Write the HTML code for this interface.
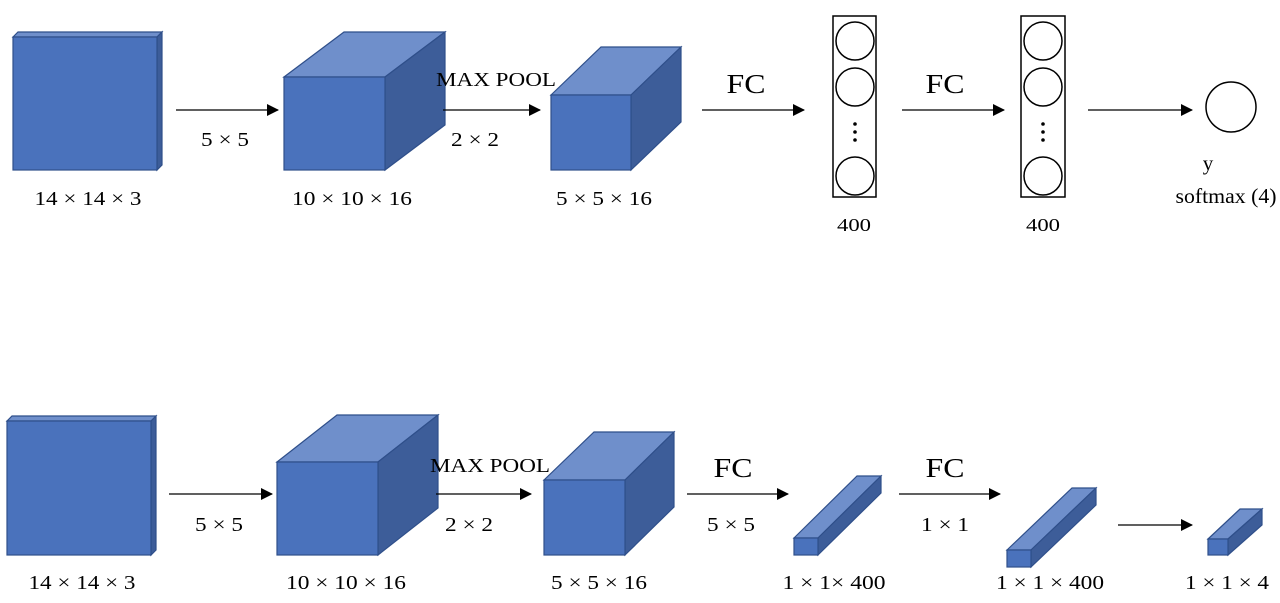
<!DOCTYPE html>
<html><head><meta charset="utf-8"><style>
html,body{margin:0;padding:0;background:#fff;}
svg{display:block;}
text{font-family:"Liberation Serif",serif;fill:#000;text-anchor:middle;}
.f{fill:#4a72bc;stroke:#2f4f8a;stroke-width:1.2;}
.t{fill:#6f8fcb;stroke:#2f4f8a;stroke-width:1.2;}
.s{fill:#3d5d99;stroke:#2f4f8a;stroke-width:1.2;}
.a{stroke:#000;stroke-width:1.3;}
.c{fill:#fff;stroke:#000;stroke-width:1.5;}
</style></head><body>
<svg width="1280" height="603" viewBox="0 0 1280 603" xmlns="http://www.w3.org/2000/svg">
<defs><marker id="ar" markerWidth="12" markerHeight="12" refX="11" refY="6" orient="auto" markerUnits="userSpaceOnUse"><path d="M0,0 L12,6 L0,12 Z" fill="#000"/></marker></defs>

<!-- TOP ROW -->
<polygon class="t" points="13,37 18,32 162,32 157,37"/>
<polygon class="s" points="157,37 162,32 162,165 157,170"/>
<rect class="f" x="13" y="37" width="144" height="133"/>

<polygon class="t" points="284,77 344,32 445,32 385,77"/>
<polygon class="s" points="385,77 445,32 445,125 385,170"/>
<rect class="f" x="284" y="77" width="101" height="93"/>

<polygon class="t" points="551,95 601,47 681,47 631,95"/>
<polygon class="s" points="631,95 681,47 681,122 631,170"/>
<rect class="f" x="551" y="95" width="80" height="75"/>

<line class="a" x1="176" y1="110" x2="278" y2="110" marker-end="url(#ar)"/>
<text x="225" y="146" font-size="20" textLength="48" lengthAdjust="spacingAndGlyphs">5 × 5</text>
<line class="a" x1="443" y1="110" x2="540" y2="110" marker-end="url(#ar)"/>
<text x="496" y="86" font-size="20" textLength="120" lengthAdjust="spacingAndGlyphs">MAX POOL</text>
<text x="475" y="146" font-size="20" textLength="48" lengthAdjust="spacingAndGlyphs">2 × 2</text>

<text x="88" y="205" font-size="20" textLength="107" lengthAdjust="spacingAndGlyphs">14 × 14 × 3</text>
<text x="352" y="205" font-size="20" textLength="120" lengthAdjust="spacingAndGlyphs">10 × 10 × 16</text>
<text x="604" y="205" font-size="20" textLength="96" lengthAdjust="spacingAndGlyphs">5 × 5 × 16</text>

<line class="a" x1="702" y1="110" x2="804" y2="110" marker-end="url(#ar)"/>
<text x="746" y="93" font-size="27" textLength="39" lengthAdjust="spacingAndGlyphs">FC</text>
<rect x="833" y="16" width="43" height="181" fill="#fff" stroke="#000" stroke-width="1.5"/>
<circle class="c" cx="855" cy="41" r="19"/>
<circle class="c" cx="855" cy="87" r="19"/>
<circle class="c" cx="855" cy="176" r="19"/>
<circle cx="855" cy="124" r="1.8"/><circle cx="855" cy="132" r="1.8"/><circle cx="855" cy="140" r="1.8"/>
<text x="854" y="231" font-size="18" textLength="34" lengthAdjust="spacingAndGlyphs">400</text>

<line class="a" x1="902" y1="110" x2="1004" y2="110" marker-end="url(#ar)"/>
<text x="945" y="93" font-size="27" textLength="39" lengthAdjust="spacingAndGlyphs">FC</text>
<rect x="1021" y="16" width="44" height="181" fill="#fff" stroke="#000" stroke-width="1.5"/>
<circle class="c" cx="1043" cy="41" r="19"/>
<circle class="c" cx="1043" cy="87" r="19"/>
<circle class="c" cx="1043" cy="176" r="19"/>
<circle cx="1043" cy="124" r="1.8"/><circle cx="1043" cy="132" r="1.8"/><circle cx="1043" cy="140" r="1.8"/>
<text x="1043" y="231" font-size="18" textLength="34" lengthAdjust="spacingAndGlyphs">400</text>

<line class="a" x1="1088" y1="110" x2="1192" y2="110" marker-end="url(#ar)"/>
<circle class="c" cx="1231" cy="107" r="25"/>
<text x="1208" y="170" font-size="21">y</text>
<text x="1226" y="203" font-size="21" textLength="101" lengthAdjust="spacingAndGlyphs">softmax (4)</text>

<!-- BOTTOM ROW -->
<polygon class="t" points="7,421 12,416 156,416 151,421"/>
<polygon class="s" points="151,421 156,416 156,550 151,555"/>
<rect class="f" x="7" y="421" width="144" height="134"/>

<polygon class="t" points="277,462 337,415 438,415 378,462"/>
<polygon class="s" points="378,462 438,415 438,508 378,555"/>
<rect class="f" x="277" y="462" width="101" height="93"/>

<polygon class="t" points="544,480 594,432 674,432 625,480"/>
<polygon class="s" points="625,480 674,432 674,507 625,555"/>
<rect class="f" x="544" y="480" width="81" height="75"/>

<line class="a" x1="169" y1="494" x2="272" y2="494" marker-end="url(#ar)"/>
<text x="219" y="531" font-size="20" textLength="48" lengthAdjust="spacingAndGlyphs">5 × 5</text>
<line class="a" x1="436" y1="494" x2="531" y2="494" marker-end="url(#ar)"/>
<text x="490" y="472" font-size="20" textLength="120" lengthAdjust="spacingAndGlyphs">MAX POOL</text>
<text x="469" y="531" font-size="20" textLength="48" lengthAdjust="spacingAndGlyphs">2 × 2</text>

<text x="82" y="589" font-size="20" textLength="107" lengthAdjust="spacingAndGlyphs">14 × 14 × 3</text>
<text x="346" y="589" font-size="20" textLength="120" lengthAdjust="spacingAndGlyphs">10 × 10 × 16</text>
<text x="599" y="589" font-size="20" textLength="96" lengthAdjust="spacingAndGlyphs">5 × 5 × 16</text>

<line class="a" x1="687" y1="494" x2="788" y2="494" marker-end="url(#ar)"/>
<text x="733" y="477" font-size="27" textLength="39" lengthAdjust="spacingAndGlyphs">FC</text>
<text x="731" y="531" font-size="20" textLength="48" lengthAdjust="spacingAndGlyphs">5 × 5</text>

<polygon class="t" points="794,538 857,476 881,476 818,538"/>
<polygon class="s" points="818,538 881,476 881,493 818,555"/>
<rect class="f" x="794" y="538" width="24" height="17"/>

<line class="a" x1="899" y1="494" x2="1000" y2="494" marker-end="url(#ar)"/>
<text x="945" y="477" font-size="27" textLength="39" lengthAdjust="spacingAndGlyphs">FC</text>
<text x="945" y="531" font-size="20" textLength="48" lengthAdjust="spacingAndGlyphs">1 × 1</text>

<polygon class="t" points="1007,550 1072,488 1096,488 1031,550"/>
<polygon class="s" points="1031,550 1096,488 1096,505 1031,567"/>
<rect class="f" x="1007" y="550" width="24" height="17"/>

<line class="a" x1="1118" y1="525" x2="1192" y2="525" marker-end="url(#ar)"/>
<polygon class="t" points="1208,539 1240,509 1262,509 1228,539"/>
<polygon class="s" points="1228,539 1262,509 1262,525 1228,555"/>
<rect class="f" x="1208" y="539" width="20" height="16"/>

<text x="834" y="589" font-size="20" textLength="103" lengthAdjust="spacingAndGlyphs">1 × 1× 400</text>
<text x="1050" y="589" font-size="20" textLength="108" lengthAdjust="spacingAndGlyphs">1 × 1 × 400</text>
<text x="1227" y="589" font-size="20" textLength="84" lengthAdjust="spacingAndGlyphs">1 × 1 × 4</text>
</svg>
</body></html>
